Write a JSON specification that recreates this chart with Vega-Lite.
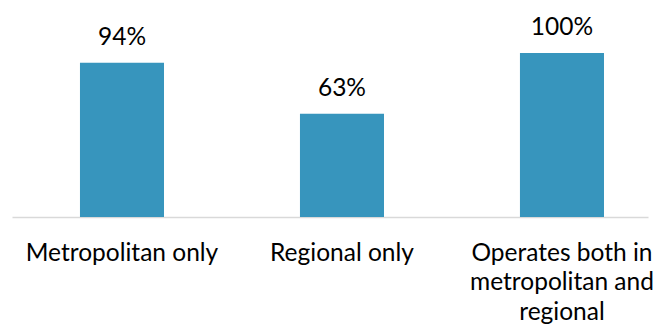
{
  "$schema": "https://vega.github.io/schema/vega-lite/v6.json",
  "autosize": "none",
  "width": 636,
  "height": 164,
  "padding": {"left": 12, "top": 53, "right": 10, "bottom": 110},
  "background": "white",
  "config": {"view": {"stroke": null}, "font": "Lato"},
  "data": {"values": [
    {"category": "Metropolitan only", "share": 0.94},
    {"category": "Regional only", "share": 0.63},
    {"category": "Operates both in metropolitan and regional", "share": 1.0}
  ]},
  "encoding": {
    "x": {
      "field": "category", "type": "nominal", "sort": null,
      "scale": {"paddingInner": 0.618, "paddingOuter": 0.2545, "align": 0.607},
      "axis": {
        "title": null, "ticks": false, "domainColor": "#d9d9d9", "domainWidth": 1.5,
        "labelAngle": 0, "labelFontSize": 24.5, "labelFontWeight": 400, "labelColor": "#000000", "labelPadding": 24,
        "labelLineHeight": 29.5, "labelLimit": 300,
        "labelExpr": "datum.value == 'Operates both in metropolitan and regional' ? ['Operates both in', 'metropolitan and', 'regional'] : datum.value"
      }
    },
    "y": {
      "field": "share", "type": "quantitative",
      "scale": {"domain": [0, 1]},
      "axis": null
    }
  },
  "layer": [
    {"mark": {"type": "bar", "color": "#3795BD"}},
    {"mark": {"type": "text", "dy": -18, "baseline": "alphabetic", "fontSize": 24.5, "fontWeight": 400, "color": "#000000"},
     "encoding": {"text": {"field": "share", "type": "quantitative", "format": ".0%"}}}
  ]
}
